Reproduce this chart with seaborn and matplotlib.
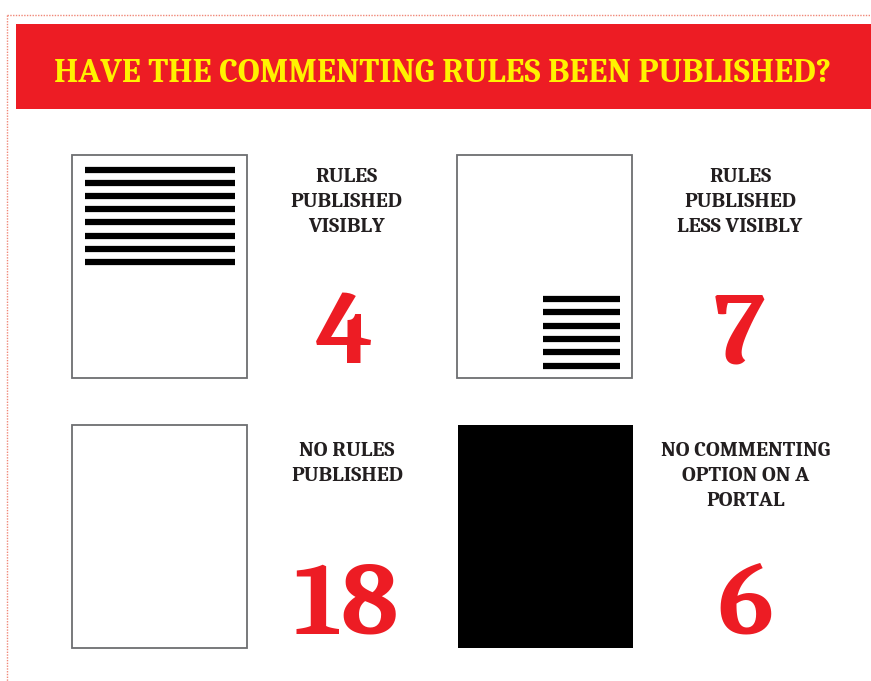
import matplotlib
matplotlib.use("Agg")
import matplotlib.pyplot as plt
import matplotlib.patches as mpatches
import seaborn as sns

title = "HAVE THE COMMENTING RULES BEEN PUBLISHED?"
labels = [
    ["RULES", "PUBLISHED", "VISIBLY"],
    ["RULES", "PUBLISHED", "LESS VISIBLY"],
    ["NO RULES", "PUBLISHED"],
    ["NO COMMENTING", "OPTION ON A", "PORTAL"],
]
counts = [4, 7, 18, 6]
# lines of text drawn on each page icon (-1 = filled black page)
page_lines = [8, 6, 0, -1]

RED = "#ED1C24"
YELLOW = "#FFF200"
DARK = "#231F20"
SERIF = ["Caladea", "Liberation Serif", "DejaVu Serif"]

sns.set_style("white")
plt.rcParams["font.family"] = SERIF

W, H = 871, 681
fig = plt.figure(figsize=(W / 100, H / 100), dpi=100)
ax = fig.add_axes([0, 0, 1, 1])
ax.set_xlim(0, W)
ax.set_ylim(H, 0)
ax.axis("off")

# dotted frame and banner
ax.plot([7, W], [15, 15], color="#F08878", lw=1, ls=(0, (1, 1)))
ax.plot([7, 7], [15, H], color="#F08878", lw=1, ls=(0, (1, 1)))
ax.add_patch(mpatches.Rectangle((16, 24), W - 16, 85, color=RED, lw=0))
ax.text(443, 82, title, color=YELLOW, fontsize=24.4, fontweight="bold",
        ha="center", va="baseline")

# grid of cells: page icon + caption + big number
cell_x = [72, 457]
cell_y = [155, 425]
text_cx = [[346, 740], [347, 746]]
page_w, page_h = 175, 223

for i, (lab, n, nl) in enumerate(zip(labels, counts, page_lines)):
    r, c = divmod(i, 2)
    x0, y0 = cell_x[c], cell_y[r]
    if nl < 0:
        ax.add_patch(mpatches.Rectangle((x0 + 1, y0), page_w, page_h,
                                        color="black", lw=0))
    else:
        ax.add_patch(mpatches.Rectangle((x0, y0), page_w, page_h,
                                        facecolor="white", edgecolor="#6D6E71",
                                        lw=1.3))
    if nl == 8:
        for k in range(nl):
            yy = y0 + 14.5 + k * 13.2
            ax.plot([x0 + 13, x0 + 163], [yy, yy], color="black", lw=4.5,
                    solid_capstyle="butt")
    elif nl > 0:
        for k in range(nl):
            yy = y0 + 144 + k * 13.3
            ax.plot([x0 + 86, x0 + 163], [yy, yy], color="black", lw=4.5,
                    solid_capstyle="butt")

    cx = text_cx[r][c]
    base = y0 + 27 if r == 0 else y0 + 31
    for j, line in enumerate(lab):
        ax.text(cx, base + j * 25, line, color=DARK, fontsize=15.4,
                fontweight="bold", ha="center", va="baseline")
    ax.text(cx - 1, y0 + 208, str(n), color=RED, fontsize=75,
            fontweight="bold", ha="center", va="baseline")

fig.savefig("out.png", dpi=100, facecolor="white")
